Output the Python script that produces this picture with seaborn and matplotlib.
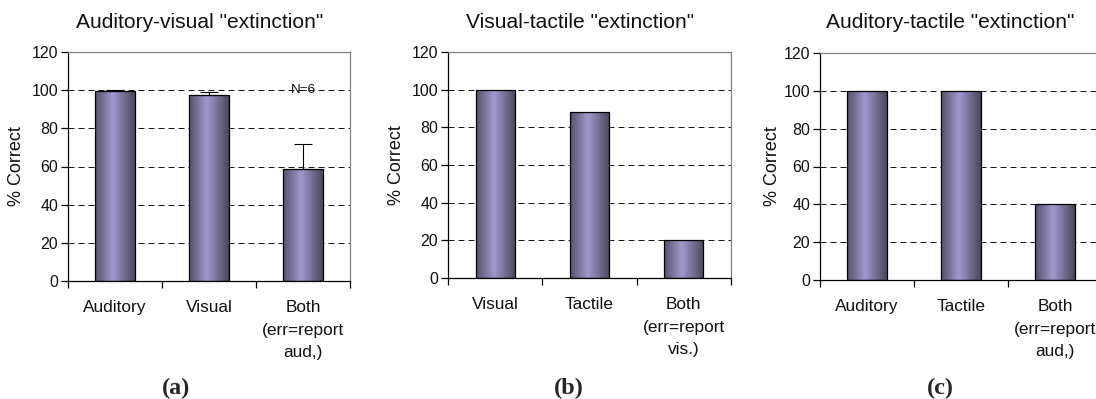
import numpy as np
import pandas as pd
import matplotlib
matplotlib.use("Agg")
import matplotlib.pyplot as plt
import seaborn as sns
from matplotlib.colors import LinearSegmentedColormap

# ---- data -------------------------------------------------------------
titles = ['Auditory-visual "extinction"',
          'Visual-tactile "extinction"',
          'Auditory-tactile "extinction"']

cats_a = ["Auditory", "Visual", "Both\n(err=report\naud,)"]
vals_a = [99.5, 97.5, 58.5]
errs_a = [0.5, 1.3, 13.3]

cats_b = ["Visual", "Tactile", "Both\n(err=report\nvis.)"]
vals_b = [100, 88, 20]

cats_c = ["Auditory", "Tactile", "Both\n(err=report\naud,)"]
vals_c = [100, 100, 40]

panel_tags = ["(a)", "(b)", "(c)"]
yticks = [0, 20, 40, 60, 80, 100, 120]
y_label = "% Correct"
n_note = "N=6"

# ---- style ------------------------------------------------------------
sns.set_style("white")
plt.rcParams["font.family"] = ["Liberation Sans", "DejaVu Sans"]

W, H = 1096, 399
fig = plt.figure(figsize=(W / 100, H / 100), dpi=100)


def px_axes(left, top, bottom, width):
    return fig.add_axes([left / W, 1 - bottom / H, width / W, (bottom - top) / H])


bar_cmap = LinearSegmentedColormap.from_list(
    "bar", [(0.0, "#55506a"), (0.45, "#9e9ace"), (1.0, "#4b4659")])
grad = np.linspace(0, 1, 256).reshape(1, -1)


def draw_panel(ax, cats, vals, ylab_x, errs=None):
    df = pd.DataFrame({"cat": cats, "val": vals})
    sns.barplot(data=df, x="cat", y="val", order=cats, ax=ax, width=0.415,
                color="#9d99cf", edgecolor="black", linewidth=0.9,
                errorbar=None, saturation=1)
    # shaded fill for each bar
    for p in list(ax.patches):
        x0, y0 = p.get_x(), p.get_y()
        w, h = p.get_width(), p.get_height()
        im = ax.imshow(grad, cmap=bar_cmap, extent=[x0, x0 + w, y0, y0 + h],
                       aspect="auto", zorder=2, interpolation="bilinear")
        im.set_clip_path(p)
        p.set_facecolor("none")
        p.set_zorder(3)
    if errs is not None:
        ax.errorbar(np.arange(len(vals)), vals,
                    yerr=[np.zeros(len(vals)), errs], fmt="none",
                    ecolor="black", elinewidth=0.8, capsize=6.5,
                    capthick=0.8, zorder=4)
    ax.set_xlim(-0.5, len(cats) - 0.5)
    ax.set_ylim(0, 120)
    ax.set_yticks(yticks)
    ax.yaxis.grid(True, color="#1a1a1a", linestyle=(0, (6, 4)), linewidth=0.72)
    ax.set_axisbelow(True)
    ax.set_xlabel("")
    ax.set_ylabel(y_label, fontsize=13, color="#111111")
    ax.yaxis.set_label_coords(ylab_x, 0.5)
    ax.set_xticks(range(len(cats)))
    ax.set_xticklabels(cats, fontsize=12.4, linespacing=1.6, color="#111111")
    ax.set_xticks(np.arange(len(cats) + 1) - 0.5, minor=True)
    ax.tick_params(axis="x", which="major", length=0, pad=14)
    ax.tick_params(axis="x", which="minor", length=5, width=0.9,
                   direction="out", color="black", bottom=True)
    ax.tick_params(axis="y", length=5, width=0.9, direction="out",
                   color="black", left=True, pad=2, labelsize=11.5,
                   labelcolor="#111111")
    for s in ("left", "bottom"):
        ax.spines[s].set_color("black")
        ax.spines[s].set_linewidth(0.9)
    for s in ("top", "right"):
        ax.spines[s].set_visible(True)
        ax.spines[s].set_color("#808080")
        ax.spines[s].set_linewidth(0.9)


ax_a = px_axes(68, 52, 281, 282)
draw_panel(ax_a, cats_a, vals_a, -0.152, errs=errs_a)
ax_a.text(2, 100, n_note, ha="center", va="center", fontsize=9.7,
          color="#111111", zorder=5)

ax_b = px_axes(448, 52, 278, 283)
draw_panel(ax_b, cats_b, vals_b, -0.152)

ax_c = px_axes(820, 53, 280, 282)
draw_panel(ax_c, cats_c, vals_c, -0.138)

# panel titles and tags
for x_px, t in zip([200, 580, 950], titles):
    fig.text(x_px / W, 1 - 22 / H, t, ha="center", va="center",
             fontsize=15.1, color="#111111")
for x_px, t in zip([176, 569, 940], panel_tags):
    fig.text(x_px / W, 1 - 388 / H, t, ha="center", va="center",
             fontsize=17.5, fontweight="bold", family="Liberation Serif")

fig.savefig("out.png", dpi=100)
